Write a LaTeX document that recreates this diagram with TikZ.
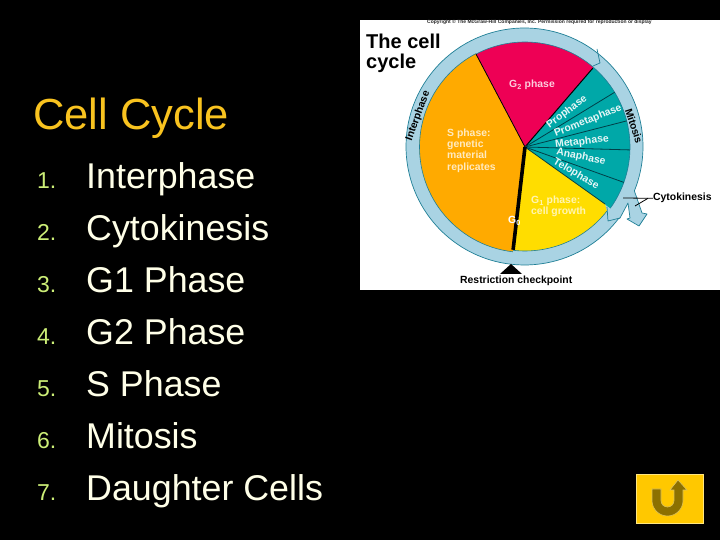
\documentclass[tikz,border=0pt]{standalone}
\usepackage{fontspec}
\setmainfont{Liberation Sans}
\usetikzlibrary{calc}
\definecolor{titlecol}{HTML}{F9C31F}
\definecolor{numcol}{HTML}{CCEE77}
\definecolor{itemcol}{HTML}{FFFFE8}
\definecolor{ringcol}{HTML}{A9D3E3}
\definecolor{ringline}{HTML}{1F7F96}
\definecolor{redsec}{HTML}{EE0055}
\definecolor{orangesec}{HTML}{FFAA00}
\definecolor{yellowsec}{HTML}{FFDD00}
\definecolor{tealsec}{HTML}{00A8A8}
\definecolor{darkteal}{HTML}{003F48}
\definecolor{btnfill}{HTML}{FFC800}
\definecolor{btnline}{HTML}{FFE680}
\definecolor{btnarrow}{HTML}{8C7000}
\newcommand{\fs}[1]{\fontsize{#1}{#1}\selectfont}
\newcommand{\cellsec}[5]{%
  \fill[#1] (C) -- ($(C)+(#2:#4)$) arc[start angle=#2,end angle=#3,radius=#4] -- cycle;
  \draw[#5,line width=.6pt] ($(C)+(#2:#4)$) arc[start angle=#2,end angle=#3,radius=#4];}
\tikzset{
  titletext/.style={anchor=base west,text=titlecol,font=\fs{43.5}},
  numtext/.style={anchor=base west,text=numcol,font=\fs{23}},
  itemtext/.style={anchor=base west,text=itemcol,font=\fs{35.8}},
  lab/.style={font=\fs{10.4}\bfseries,inner sep=0pt},
  blacklab/.style={lab,text=black},
  sphase/.style={lab,anchor=base west,text=white!75!orangesec},
  gone/.style={lab,anchor=base west,text=white!70!yellowsec},
  mito/.style={lab,text=white!90!tealsec},
  divider/.style={darkteal,line width=.8pt},
  ringstroke/.style={draw=ringline,line width=.7pt,line join=round},
  leader/.style={black,line width=.8pt},
}
\begin{document}
\begin{tikzpicture}[x=1pt,y=1pt]
\useasboundingbox (0,0) rectangle (720,540);
\fill[black] (0,0) rectangle (720,540);
% left text
\node[titletext,inner sep=0pt] (title) at (33,410.5) {Cell Cycle};
\foreach \n/\t [count=\i from 0] in {1/Interphase,2/Cytokinesis,3/G1 Phase,4/G2 Phase,5/S Phase,6/Mitosis,7/Daughter Cells}{
  \node[numtext,inner sep=0pt] (num\n) at (37,351-52*\i) {\n.};
  \node[itemtext,inner sep=0pt] (item\n) at (86,351-52*\i) {\t};
}
% picture
\fill[white] (360,250) rectangle (720,520);
\coordinate (C) at (525,393);
\coordinate (R) at (524.5,393.5);
\filldraw[fill=ringcol,ringstroke] ($(R)+(-37.5:118.5)$) arc[start angle=-37.5,end angle=-382,radius=118.5]
  -- (642,327) -- (647,326) -- (639,314) -- (627,321) -- (630,322) -- (628,337) -- (620,322) -- cycle;
\draw[ringstroke] (597,491) -- (600,477) -- (593,474);
\draw[ringstroke] (607,333) -- (608,319) -- (620,322);
% sectors
\cellsec{orangesec}{-96.6}{-242.2}{105.5}{ringline}
\cellsec{redsec}{117.8}{49.3}{105}{ringline}
\cellsec{tealsec}{49.3}{-35.7}{105}{ringline}
\fill[yellowsec] (C) -- (605,336) -- (606,332) -- ($(C)+(-38:104)$) arc[start angle=-38,end angle=-96.6,radius=104] -- cycle;
\draw[ringline,line width=.6pt] ($(C)+(-38:104)$) arc[start angle=-38,end angle=-96.6,radius=104];
\draw[black,line width=.8pt] (C) -- +(117.8:105);
\draw[black,line width=1pt] (C) -- +(49.3:104);
\foreach \a in {31.4,14.4,-1.6,-19.7}{\draw[divider] (C) -- +(\a:105);}
\draw[divider] (C) -- (605,336);
\draw[black,line width=3.6pt] (C) -- +(-96.6:103.5);
% checkpoint
\fill[black] (500,266) -- (522,266) -- (511,276) -- cycle;
% picture labels
\node[anchor=base west,inner sep=0pt,font=\fs{5}\bfseries,text=black!85] (copy) at (427,516) {Copyright © The McGraw-Hill Companies, Inc. Permission required for reproduction or display};
\node[anchor=base west,inner sep=0pt,font=\fs{20}\bfseries] (the) at (366,491) {The cell};
\node[anchor=base west,inner sep=0pt,font=\fs{20}\bfseries] (cyc) at (366,471) {cycle};
\node[blacklab,rotate=70] (inter) at (418,424) {Interphase};
\node[blacklab,rotate=-72] (mit) at (634,414) {Mitosis};
\node[lab,anchor=base west,text=white!80!redsec] (g2) at (509,452) {G\textsubscript{2} phase};
\node[sphase] (s1) at (447,403) {S phase:};
\node[sphase] (s2) at (447,392) {genetic};
\node[sphase] (s3) at (447,381) {material};
\node[sphase] (s4) at (447,369) {replicates};
\node[gone] (g1a) at (531,336) {G\textsubscript{1} phase:};
\node[gone] (g1b) at (531,325) {cell growth};
\node[lab,anchor=base west,text=white] (g0) at (508,316) {G\textsubscript{0}};
\node[mito,rotate=37] (pro) at (567,428) {Prophase};
\node[mito,rotate=22] (prm) at (588,419) {Prometaphase};
\node[mito,rotate=7] (met) at (582,398) {Metaphase};
\node[mito,rotate=-11] (ana) at (581,383) {Anaphase};
\node[mito,rotate=-30] (tel) at (576,366) {Telophase};
\node[lab,anchor=base west,text=black] (cyt) at (653,339) {Cytokinesis};
\node[lab,anchor=base west,text=black] (rest) at (460,256) {Restriction checkpoint};
\coordinate (cy1) at (623,342);
\coordinate (cy2) at (635,334);
\draw[leader] (cyt.west) -- (cy1);
\draw[leader] ([xshift=-5pt]cyt.west) -- (cy2);
% button
\filldraw[fill=btnfill,draw=btnline,line width=.8pt] (636,17) rectangle (703,66);
\filldraw[fill=btnarrow,draw=btnline!70!btnarrow,line width=.6pt,line join=miter]
  (652,51) -- (652,39.5) arc[start angle=180,end angle=360,radius=15.5] -- (683,50) -- (687,50) -- (678,60) -- (670,50) -- (674,50)
  -- (674,39.5) arc[start angle=360,end angle=180,radius=6.5] -- (661,51) -- cycle;
\end{tikzpicture}
\end{document}
